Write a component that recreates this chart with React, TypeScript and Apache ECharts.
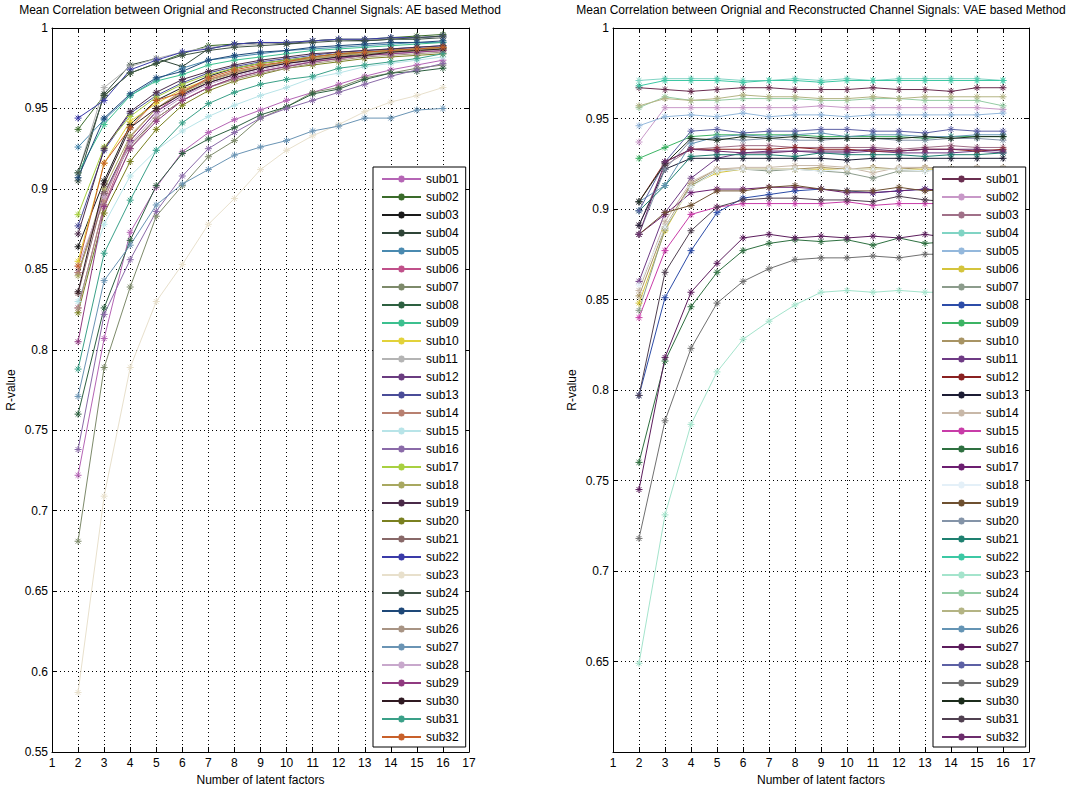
import React, { useEffect, useRef } from 'react';
import * as echarts from 'echarts';

const FONT = '"Liberation Sans", Arial, Helvetica, sans-serif';

// x positions: number of latent factors
const factors = [2, 3, 4, 5, 6, 7, 8, 9, 10, 11, 12, 13, 14, 15, 16];

const subjects = [
  'sub01', 'sub02', 'sub03', 'sub04', 'sub05', 'sub06', 'sub07', 'sub08',
  'sub09', 'sub10', 'sub11', 'sub12', 'sub13', 'sub14', 'sub15', 'sub16',
  'sub17', 'sub18', 'sub19', 'sub20', 'sub21', 'sub22', 'sub23', 'sub24',
  'sub25', 'sub26', 'sub27', 'sub28', 'sub29', 'sub30', 'sub31', 'sub32',
];

const aeTitle = 'Mean Correlation between Orignial and Reconstructed Channel Signals: AE based Method';
const vaeTitle = 'Mean Correlation between Orignial and Reconstructed Channel Signals: VAE based Method';

const yTicksAE = { min: 0.55, max: 1, interval: 0.05 };
const yTicksVAE = { min: 0.6, max: 1, interval: 0.05 };
const xTicks = { min: 1, max: 17, interval: 1 };

const aeColors = [
  '#b565b5', '#3a6b2a', '#1a1a1a', '#2f4538', '#4a8ab0', '#c0508a', '#7d8a6a', '#2d6040',
  '#3cc08f', '#e2d23a', '#b4b4b4', '#6a3c80', '#4a4c98', '#b88070', '#b8e4e8', '#8a6aa8',
  '#a8d040', '#a8a860', '#4a2a48', '#7a8020', '#886868', '#3a3aa8', '#e8e0cc', '#3e5244',
  '#1e4878', '#a89484', '#6a94b4', '#c8a8cc', '#903a80', '#301a22', '#3aa088', '#c8602a',
];

const vaeColors = [
  '#6a2e50', '#c898c8', '#a07088', '#80d4c4', '#94b8dc', '#d4c43c', '#8c9c8c', '#2c4ca8',
  '#3cb464', '#a89464', '#6e3a84', '#8a2020', '#1c1c34', '#c8b8a8', '#c83ca8', '#2e7040',
  '#6c1e70', '#e4f0f8', '#6e5030', '#8494a8', '#1e8070', '#3cc8a4', '#a4e4cc', '#94cca4',
  '#b4b484', '#6494b4', '#5c1c5c', '#5c60a4', '#707070', '#1c2c1c', '#504050', '#6c2c6c',
];

// AE based method, one row per subject (x = 2..16)
const aeValues = [
  [0.722, 0.807, 0.873, 0.901, 0.923, 0.935, 0.943, 0.949, 0.955, 0.960, 0.965, 0.970, 0.974, 0.977, 0.980],
  [0.937, 0.958, 0.972, 0.978, 0.984, 0.989, 0.990, 0.991, 0.991, 0.992, 0.993, 0.993, 0.994, 0.995, 0.996],
  [0.864, 0.905, 0.940, 0.955, 0.963, 0.970, 0.975, 0.978, 0.980, 0.982, 0.984, 0.985, 0.986, 0.987, 0.988],
  [0.905, 0.959, 0.977, 0.981, 0.976, 0.987, 0.990, 0.991, 0.990, 0.992, 0.993, 0.992, 0.993, 0.993, 0.994],
  [0.926, 0.943, 0.958, 0.968, 0.975, 0.980, 0.982, 0.984, 0.986, 0.987, 0.988, 0.989, 0.990, 0.991, 0.991],
  [0.826, 0.890, 0.930, 0.948, 0.960, 0.968, 0.972, 0.976, 0.979, 0.981, 0.983, 0.985, 0.986, 0.987, 0.988],
  [0.681, 0.789, 0.839, 0.883, 0.902, 0.920, 0.930, 0.944, 0.951, 0.960, 0.963, 0.969, 0.972, 0.975, 0.977],
  [0.760, 0.826, 0.868, 0.902, 0.922, 0.931, 0.938, 0.946, 0.951, 0.959, 0.962, 0.968, 0.972, 0.973, 0.975],
  [0.910, 0.940, 0.958, 0.967, 0.971, 0.977, 0.980, 0.982, 0.984, 0.986, 0.987, 0.988, 0.989, 0.990, 0.991],
  [0.855, 0.916, 0.942, 0.953, 0.962, 0.968, 0.973, 0.976, 0.979, 0.981, 0.983, 0.984, 0.985, 0.986, 0.987],
  [0.910, 0.963, 0.976, 0.981, 0.985, 0.988, 0.989, 0.990, 0.991, 0.992, 0.993, 0.993, 0.993, 0.994, 0.994],
  [0.848, 0.897, 0.930, 0.948, 0.958, 0.966, 0.971, 0.975, 0.978, 0.980, 0.982, 0.984, 0.985, 0.986, 0.987],
  [0.877, 0.924, 0.947, 0.958, 0.966, 0.972, 0.976, 0.979, 0.981, 0.983, 0.985, 0.986, 0.987, 0.988, 0.989],
  [0.848, 0.893, 0.932, 0.950, 0.961, 0.968, 0.973, 0.976, 0.979, 0.981, 0.983, 0.985, 0.986, 0.987, 0.988],
  [0.830, 0.878, 0.908, 0.924, 0.936, 0.945, 0.952, 0.958, 0.963, 0.969, 0.972, 0.976, 0.978, 0.980, 0.982],
  [0.738, 0.822, 0.856, 0.886, 0.908, 0.925, 0.935, 0.944, 0.950, 0.955, 0.960, 0.965, 0.970, 0.974, 0.978],
  [0.884, 0.926, 0.945, 0.957, 0.965, 0.971, 0.975, 0.978, 0.980, 0.982, 0.984, 0.985, 0.986, 0.987, 0.988],
  [0.846, 0.900, 0.933, 0.950, 0.960, 0.967, 0.972, 0.976, 0.979, 0.981, 0.983, 0.984, 0.985, 0.986, 0.987],
  [0.872, 0.925, 0.948, 0.960, 0.968, 0.973, 0.977, 0.980, 0.982, 0.984, 0.985, 0.986, 0.987, 0.988, 0.989],
  [0.823, 0.885, 0.917, 0.937, 0.952, 0.961, 0.967, 0.971, 0.975, 0.977, 0.979, 0.981, 0.982, 0.983, 0.984],
  [0.835, 0.897, 0.927, 0.944, 0.955, 0.963, 0.969, 0.973, 0.976, 0.979, 0.981, 0.983, 0.984, 0.985, 0.986],
  [0.944, 0.955, 0.974, 0.980, 0.985, 0.987, 0.990, 0.991, 0.991, 0.992, 0.993, 0.993, 0.994, 0.994, 0.995],
  [0.587, 0.709, 0.789, 0.830, 0.853, 0.878, 0.894, 0.912, 0.924, 0.933, 0.940, 0.948, 0.954, 0.958, 0.963],
  [0.910, 0.958, 0.972, 0.978, 0.983, 0.986, 0.988, 0.989, 0.990, 0.991, 0.992, 0.992, 0.993, 0.994, 0.995],
  [0.907, 0.944, 0.959, 0.969, 0.973, 0.980, 0.983, 0.985, 0.986, 0.988, 0.989, 0.990, 0.991, 0.991, 0.992],
  [0.826, 0.890, 0.925, 0.944, 0.955, 0.963, 0.968, 0.972, 0.975, 0.978, 0.980, 0.982, 0.983, 0.984, 0.985],
  [0.771, 0.843, 0.865, 0.890, 0.903, 0.912, 0.921, 0.926, 0.930, 0.936, 0.939, 0.944, 0.944, 0.949, 0.950],
  [0.852, 0.895, 0.928, 0.946, 0.957, 0.965, 0.970, 0.974, 0.977, 0.979, 0.981, 0.983, 0.984, 0.985, 0.986],
  [0.805, 0.889, 0.925, 0.942, 0.955, 0.963, 0.969, 0.973, 0.976, 0.979, 0.981, 0.983, 0.984, 0.985, 0.986],
  [0.836, 0.903, 0.938, 0.950, 0.959, 0.966, 0.971, 0.975, 0.978, 0.980, 0.982, 0.983, 0.985, 0.986, 0.987],
  [0.788, 0.860, 0.893, 0.924, 0.941, 0.953, 0.960, 0.965, 0.968, 0.970, 0.975, 0.977, 0.979, 0.981, 0.984],
  [0.852, 0.916, 0.938, 0.955, 0.960, 0.969, 0.974, 0.977, 0.979, 0.982, 0.984, 0.985, 0.986, 0.987, 0.988],
];

// VAE based method, one row per subject (x = 2..16)
const vaeValues = [
  [0.967, 0.966, 0.965, 0.966, 0.967, 0.967, 0.966, 0.966, 0.966, 0.967, 0.966, 0.966, 0.965, 0.967, 0.967],
  [0.937, 0.956, 0.956, 0.956, 0.956, 0.956, 0.956, 0.957, 0.956, 0.956, 0.956, 0.956, 0.956, 0.956, 0.955],
  [0.891, 0.924, 0.933, 0.934, 0.935, 0.935, 0.934, 0.934, 0.934, 0.934, 0.933, 0.934, 0.935, 0.934, 0.934],
  [0.971, 0.972, 0.972, 0.972, 0.971, 0.971, 0.972, 0.971, 0.972, 0.971, 0.972, 0.972, 0.972, 0.972, 0.971],
  [0.946, 0.951, 0.952, 0.951, 0.953, 0.951, 0.952, 0.952, 0.951, 0.952, 0.952, 0.952, 0.952, 0.952, 0.953],
  [0.848, 0.888, 0.913, 0.920, 0.922, 0.922, 0.922, 0.922, 0.922, 0.922, 0.922, 0.922, 0.922, 0.922, 0.922],
  [0.844, 0.889, 0.913, 0.921, 0.922, 0.921, 0.922, 0.921, 0.920, 0.917, 0.921, 0.921, 0.922, 0.922, 0.922],
  [0.797, 0.851, 0.877, 0.898, 0.906, 0.908, 0.910, 0.911, 0.910, 0.909, 0.910, 0.911, 0.910, 0.910, 0.910],
  [0.928, 0.934, 0.940, 0.941, 0.941, 0.941, 0.941, 0.940, 0.940, 0.940, 0.940, 0.939, 0.940, 0.940, 0.940],
  [0.852, 0.890, 0.914, 0.922, 0.922, 0.922, 0.922, 0.923, 0.922, 0.923, 0.922, 0.923, 0.922, 0.922, 0.922],
  [0.860, 0.898, 0.917, 0.928, 0.931, 0.932, 0.932, 0.931, 0.931, 0.932, 0.931, 0.931, 0.931, 0.932, 0.931],
  [0.904, 0.926, 0.933, 0.933, 0.933, 0.933, 0.934, 0.933, 0.933, 0.932, 0.932, 0.933, 0.933, 0.932, 0.933],
  [0.891, 0.922, 0.928, 0.928, 0.928, 0.928, 0.928, 0.928, 0.927, 0.928, 0.928, 0.928, 0.928, 0.928, 0.928],
  [0.855, 0.893, 0.915, 0.922, 0.923, 0.923, 0.924, 0.924, 0.923, 0.920, 0.923, 0.923, 0.922, 0.923, 0.923],
  [0.840, 0.877, 0.897, 0.901, 0.903, 0.903, 0.903, 0.903, 0.904, 0.902, 0.903, 0.903, 0.903, 0.903, 0.903],
  [0.760, 0.816, 0.846, 0.865, 0.877, 0.881, 0.883, 0.882, 0.883, 0.880, 0.884, 0.881, 0.882, 0.882, 0.881],
  [0.886, 0.897, 0.909, 0.911, 0.911, 0.912, 0.912, 0.911, 0.909, 0.909, 0.910, 0.911, 0.910, 0.910, 0.911],
  [0.858, 0.890, 0.912, 0.921, 0.922, 0.922, 0.922, 0.921, 0.922, 0.922, 0.922, 0.921, 0.922, 0.922, 0.922],
  [0.886, 0.898, 0.902, 0.910, 0.910, 0.912, 0.913, 0.911, 0.910, 0.910, 0.912, 0.910, 0.911, 0.911, 0.911],
  [0.886, 0.922, 0.938, 0.939, 0.938, 0.939, 0.938, 0.938, 0.939, 0.939, 0.938, 0.938, 0.939, 0.939, 0.938],
  [0.899, 0.913, 0.929, 0.930, 0.930, 0.930, 0.929, 0.931, 0.930, 0.930, 0.930, 0.929, 0.930, 0.930, 0.931],
  [0.968, 0.971, 0.971, 0.971, 0.970, 0.971, 0.971, 0.970, 0.971, 0.971, 0.971, 0.971, 0.971, 0.971, 0.971],
  [0.649, 0.731, 0.781, 0.810, 0.828, 0.838, 0.847, 0.854, 0.855, 0.854, 0.855, 0.854, 0.854, 0.855, 0.855],
  [0.956, 0.962, 0.960, 0.960, 0.961, 0.961, 0.961, 0.960, 0.960, 0.961, 0.961, 0.960, 0.960, 0.960, 0.957],
  [0.957, 0.961, 0.960, 0.961, 0.963, 0.962, 0.962, 0.961, 0.961, 0.962, 0.961, 0.962, 0.962, 0.962, 0.962],
  [0.904, 0.913, 0.936, 0.940, 0.941, 0.940, 0.941, 0.942, 0.940, 0.941, 0.941, 0.940, 0.940, 0.941, 0.941],
  [0.745, 0.818, 0.854, 0.870, 0.884, 0.886, 0.884, 0.885, 0.884, 0.885, 0.884, 0.886, 0.884, 0.885, 0.884],
  [0.899, 0.926, 0.943, 0.944, 0.942, 0.943, 0.943, 0.944, 0.944, 0.943, 0.943, 0.942, 0.944, 0.943, 0.943],
  [0.718, 0.783, 0.823, 0.848, 0.860, 0.867, 0.872, 0.873, 0.873, 0.874, 0.873, 0.875, 0.875, 0.876, 0.876],
  [0.904, 0.925, 0.939, 0.938, 0.940, 0.939, 0.940, 0.939, 0.939, 0.939, 0.939, 0.940, 0.939, 0.940, 0.940],
  [0.797, 0.865, 0.888, 0.901, 0.905, 0.906, 0.906, 0.905, 0.905, 0.904, 0.907, 0.905, 0.904, 0.905, 0.905],
  [0.886, 0.926, 0.933, 0.932, 0.931, 0.931, 0.932, 0.932, 0.932, 0.933, 0.932, 0.933, 0.933, 0.933, 0.932],
];

const ASTERISK = 'path://M5,0L5,10M0,5L10,5M1.6,1.6L8.4,8.4M8.4,1.6L1.6,8.4';

const textBase = { color: '#000', fontSize: 12, fontFamily: FONT };

function buildAxes(g: number, yt: { min: number; max: number; interval: number }, hideMin: boolean) {
  const line = { show: true, onZero: false, lineStyle: { color: '#000', width: 1 } };
  const tick = { show: true, inside: true, length: 5, lineStyle: { color: '#000', width: 1 } };
  const split = { show: true, lineStyle: { color: '#000', width: 1, type: [1, 3] as any } };
  const xs = [
    {
      type: 'value', gridIndex: g, ...xTicks, position: 'bottom',
      axisLine: line, axisTick: tick,
      axisLabel: { ...textBase, margin: 5 },
      splitLine: split,
      name: 'Number of latent factors', nameLocation: 'middle', nameGap: 21,
      nameTextStyle: { ...textBase },
    },
    {
      type: 'value', gridIndex: g, ...xTicks, position: 'top',
      axisLine: line, axisTick: tick, axisLabel: { show: false }, splitLine: { show: false },
    },
  ];
  const ys = [
    {
      type: 'value', gridIndex: g, ...yt, position: 'left',
      axisLine: line, axisTick: tick,
      axisLabel: { ...textBase, margin: 4, showMinLabel: !hideMin },
      splitLine: split,
      name: 'R-value', nameLocation: 'middle', nameGap: 35, nameRotate: 90,
      nameTextStyle: { ...textBase },
    },
    {
      type: 'value', gridIndex: g, ...yt, position: 'right',
      axisLine: line, axisTick: tick, axisLabel: { show: false }, splitLine: { show: false },
    },
  ];
  return { xs, ys };
}

function buildSeries(prefix: string, values: number[][], colors: string[], axisIndex: number) {
  return values.map((row, i) => ({
    type: 'line',
    name: prefix + subjects[i],
    xAxisIndex: axisIndex,
    yAxisIndex: axisIndex,
    data: row.map((v, j) => [factors[j], v]),
    symbol: ASTERISK,
    symbolSize: 7,
    showAllSymbol: true,
    lineStyle: { color: colors[i], width: 1 },
    itemStyle: { color: colors[i], borderColor: colors[i], borderWidth: 1 },
    emphasis: { disabled: true },
    silent: true,
  }));
}

function buildLegend(prefix: string, left: number) {
  return {
    orient: 'vertical',
    left,
    top: 167,
    itemWidth: 39,
    itemHeight: 9,
    itemGap: 6,
    padding: [6, 7, 4, 8],
    backgroundColor: '#fff',
    borderColor: '#000',
    borderWidth: 1,
    borderRadius: 0,
    selectedMode: false,
    textStyle: { ...textBase, lineHeight: 12 },
    data: subjects.map((s) => prefix + s),
    formatter: (name: string) => name.slice(prefix.length),
  };
}

function buildOption() {
  const a = buildAxes(0, yTicksAE, false);
  const b = buildAxes(1, yTicksVAE, true);
  return {
    animation: false,
    backgroundColor: '#fff',
    title: [
      { text: aeTitle, left: 260, top: 3, padding: 0, textAlign: 'center', textStyle: { ...textBase, fontWeight: 'normal', lineHeight: 14 } },
      { text: vaeTitle, left: 821, top: 3, padding: 0, textAlign: 'center', textStyle: { ...textBase, fontWeight: 'normal', lineHeight: 14 } },
    ],
    grid: [
      { left: 52, top: 28, width: 417, height: 724 },
      { left: 613, top: 28, width: 416, height: 724 },
    ],
    xAxis: [...a.xs, ...b.xs],
    yAxis: [...a.ys, ...b.ys],
    legend: [buildLegend('AE ', 373), buildLegend('VAE ', 933)],
    series: [
      ...buildSeries('AE ', aeValues, aeColors, 0),
      ...buildSeries('VAE ', vaeValues, vaeColors, 2),
    ],
  };
}

export default function App() {
  const ref = useRef<HTMLDivElement>(null);
  useEffect(() => {
    document.body.style.margin = '0';
    const chart = echarts.init(ref.current as HTMLDivElement, null, { renderer: 'svg' });
    chart.setOption(buildOption() as any);
    return () => chart.dispose();
  }, []);
  return <div ref={ref} style={{ width: 1084, height: 797, background: '#fff' }} />;
}
